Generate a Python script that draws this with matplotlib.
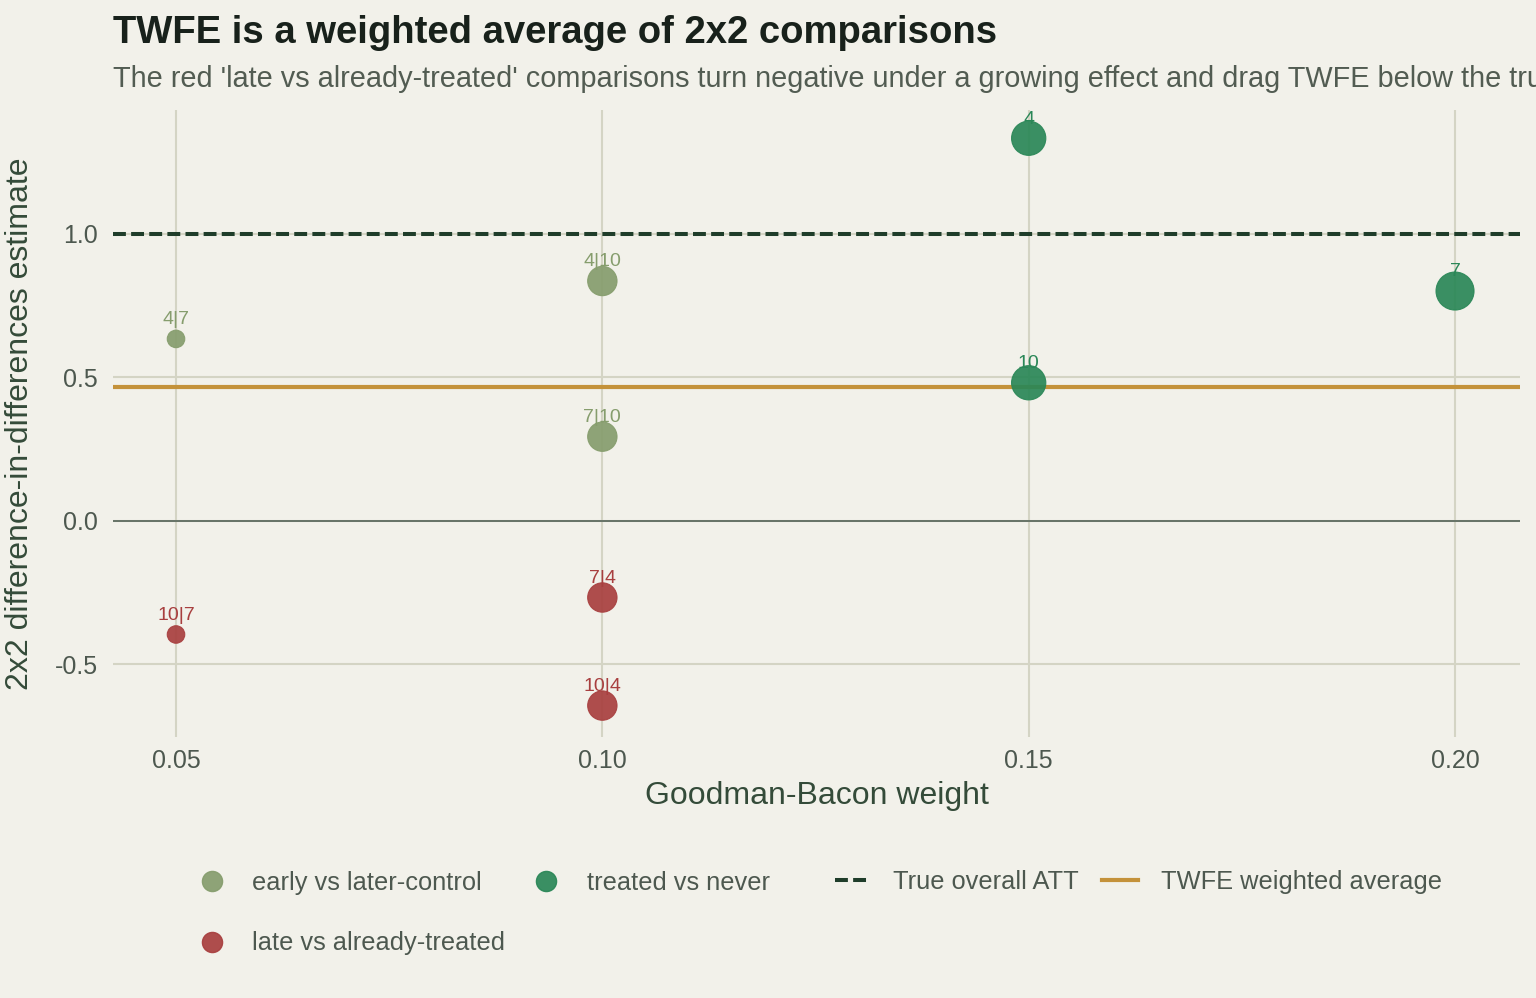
import matplotlib.pyplot as plt
import numpy as np
from matplotlib.lines import Line2D

plt.rcParams['font.family'] = ['Liberation Sans', 'DejaVu Sans']

# 2x2 comparisons (Goodman-Bacon decomposition)
early_labels = ['4|7', '4|10', '7|10']
early_w = [0.05, 0.10, 0.10]
early_est = [0.634, 0.836, 0.293]

late_labels = ['10|7', '7|4', '10|4']
late_w = [0.05, 0.10, 0.10]
late_est = [-0.397, -0.268, -0.645]

never_labels = ['4', '10', '7']
never_w = [0.15, 0.15, 0.20]
never_est = [1.334, 0.481, 0.801]

true_att = 1.0

xticks = [0.05, 0.10, 0.15, 0.20]
yticks = [-0.5, 0.0, 0.5, 1.0]

BG = '#f2f1ea'
GRID = '#d4d4c4'
C_EARLY = '#869d6d'
C_NEVER = '#2a8757'
C_LATE = '#a83f3f'
C_TRUE = '#1f3d2a'
C_TWFE = '#c4923a'
TXT = '#4d584f'
LAB = '#344b39'

all_w = np.array(early_w + late_w + never_w)
all_est = np.array(early_est + late_est + never_est)
twfe = np.sum(all_w * all_est) / np.sum(all_w)

def size_of(w):
    w = np.asarray(w)
    r = (w - all_w.min()) / (all_w.max() - all_w.min())
    d = 17.5 + 20.5 * np.sqrt(r)       # diameter in px
    return (d * 0.72) ** 2

fig = plt.figure(figsize=(15.36, 9.98), dpi=100, facecolor=BG)
ax = fig.add_axes([113/1536, 1-737/998, 1407/1536, 627/998])
ax.set_facecolor(BG)
for s in ax.spines.values():
    s.set_visible(False)

ax.set_xlim(0.04261, 0.20762)
ax.set_ylim(-0.7546, 1.4325)
ax.set_xticks(xticks)
ax.set_xticklabels(['%.2f' % v for v in xticks])
ax.set_yticks(yticks)
ax.set_yticklabels(['%.1f' % v for v in yticks])
ax.tick_params(axis='y', length=0, labelsize=18, colors=TXT, pad=11)
ax.tick_params(axis='x', length=0, labelsize=18, colors=TXT, pad=8.5)
ax.grid(True, color=GRID, lw=1.5)
ax.set_axisbelow(True)

dash = (0, (3.2, 1.3))
ax.axhline(0, color='#5e6b60', lw=1.3, zorder=1)
ax.axhline(true_att, color=C_TRUE, lw=2.9, ls=dash, zorder=2)
ax.axhline(twfe, color=C_TWFE, lw=3.0, zorder=2)

for lab, w, e, c in [(early_labels, early_w, early_est, C_EARLY),
                     (never_labels, never_w, never_est, C_NEVER),
                     (late_labels, late_w, late_est, C_LATE)]:
    ax.scatter(w, e, s=size_of(w), color=c, alpha=0.92, edgecolors=c, lw=0.8, zorder=3)
    for t, xx, yy in zip(lab, w, e):
        ax.annotate(t, (xx, yy), xytext=(0, 10.5), textcoords='offset points',
                    ha='center', va='baseline', fontsize=14, color=c, zorder=4)

ax.set_xlabel('Goodman-Bacon weight', fontsize=23, color=LAB, labelpad=6)
ax.set_ylabel('2x2 difference-in-differences estimate', fontsize=23, color=LAB, labelpad=14)

fig.text(113/1536, 1-43/998, 'TWFE is a weighted average of 2x2 comparisons',
         fontsize=27.5, fontweight='bold', color='#18211b', va='baseline')
# the reference subtitle runs past the right edge of the figure
fig.text(113/1536, 1-87/998,
         "The red 'late vs already-treated' comparisons turn negative under a growing effect and drag TWFE below the true ATT",
         fontsize=20.8, color='#525c52', va='baseline')

def pt(c):
    return Line2D([], [], ls='none', marker='o', markersize=14.5, color=c, alpha=0.92)

h1 = [pt(C_EARLY), pt(C_LATE), pt(C_NEVER)]
l1 = ['early vs later-control', 'late vs already-treated', 'treated vs never']
h2 = [Line2D([], [], color=C_TRUE, lw=2.9, ls=dash),
      Line2D([], [], color=C_TWFE, lw=3.0)]
l2 = ['True overall ATT', 'TWFE weighted average']

kw = dict(frameon=False, fontsize=18.3, labelcolor=TXT, handlelength=1.4,
          handletextpad=0.9, columnspacing=0.9, labelspacing=1.45,
          borderpad=0, borderaxespad=0)
leg1 = fig.legend(h1, l1, ncol=2, loc='center left',
                  bbox_to_anchor=(194/1536, 1-913/998), **kw)
leg2 = fig.legend(h2, l2, ncol=2, loc='center left',
                  bbox_to_anchor=(835/1536, 1-882/998), **kw)

fig.savefig('out.png', dpi=100, facecolor=BG)
